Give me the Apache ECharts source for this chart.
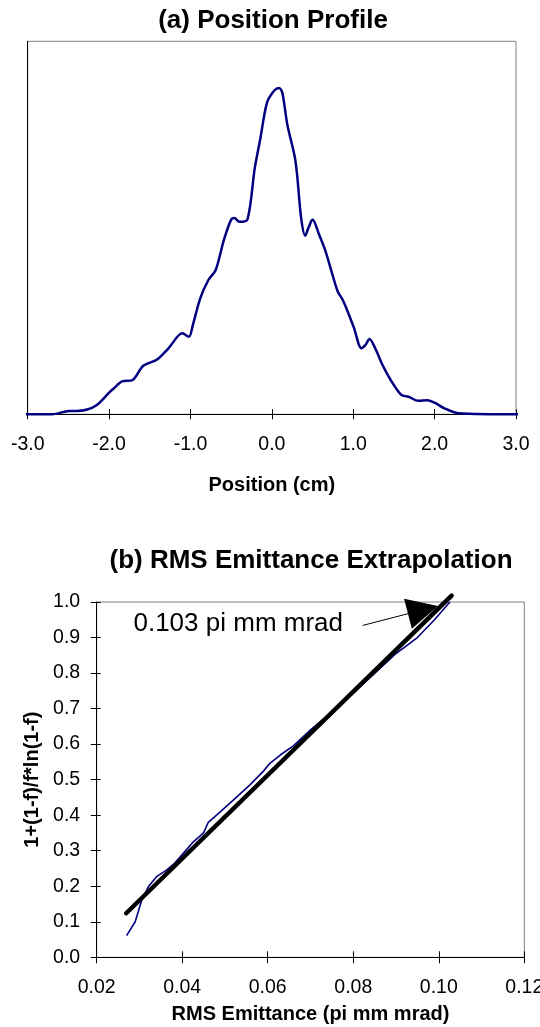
<!DOCTYPE html>
<html>
<head>
<meta charset="utf-8">
<script src="https://cdn.jsdelivr.net/npm/echarts@6/dist/echarts.min.js"></script>
<style>
  html, body { margin: 0; padding: 0; background: #fff; }
  #main { width: 540px; height: 1027px; }
</style>
</head>
<body>
<div id="main"></div>
<script>
// (a) position profile (arbitrary vertical units)
const profileX = [-3.1, -2.70, -2.49, -2.40, -2.28, -2.15, -2.00, -1.94, -1.84, -1.71,
  -1.58, -1.41, -1.27, -1.10, -1.02, -0.97, -0.88, -0.78, -0.69, -0.59,
  -0.50, -0.46, -0.40, -0.30, -0.21, -0.14, -0.06, 0.03, 0.09, 0.13,
  0.19, 0.28, 0.31, 0.36, 0.41, 0.45, 0.50, 0.58, 0.66, 0.74,
  0.81, 0.87, 0.94, 1.01, 1.10, 1.15, 1.20, 1.27, 1.36, 1.46,
  1.59, 1.68, 1.80, 1.91, 2.00, 2.12, 2.29, 3.1];
const profileY = [0, 0, 0.009, 0.009, 0.012, 0.025, 0.058, 0.070, 0.088, 0.092,
  0.130, 0.147, 0.177, 0.217, 0.208, 0.240, 0.311, 0.360, 0.387, 0.467,
  0.522, 0.526, 0.516, 0.522, 0.660, 0.741, 0.835, 0.868, 0.875, 0.861,
  0.777, 0.692, 0.643, 0.526, 0.479, 0.500, 0.522, 0.482, 0.437, 0.378,
  0.329, 0.307, 0.271, 0.231, 0.177, 0.186, 0.202, 0.177, 0.132, 0.092,
  0.052, 0.047, 0.036, 0.038, 0.031, 0.016, 0.003, 0];

// (b) rms emittance vs 1+(1-f)/f*ln(1-f)
const emitX = [0.0270, 0.0290, 0.0305, 0.0321, 0.0340, 0.0364, 0.0380, 0.0400, 0.0426, 0.0450,
  0.0461, 0.0481, 0.0520, 0.0559, 0.0590, 0.0605, 0.0630, 0.0660, 0.0700, 0.0740,
  0.0770, 0.0810, 0.0860, 0.0900, 0.0950, 0.0990, 0.1026];
const emitY = [0.061, 0.100, 0.160, 0.199, 0.227, 0.246, 0.262, 0.289, 0.325, 0.350,
  0.380, 0.401, 0.443, 0.486, 0.524, 0.546, 0.570, 0.595, 0.640, 0.680,
  0.710, 0.755, 0.810, 0.855, 0.900, 0.950, 1.000];

// straight-line extrapolation
const fitX = [0.0269, 0.1030];
const fitY = [0.124, 1.018];

// annotation: text anchor, arrow start, arrow head centre (data coords)
const annoText = '0.103 pi mm mrad';
const annoPos = [0.0286, 0.938];
const arrowFrom = [0.0822, 0.934];
const arrowTo = [0.0963, 0.978];

const FONT = '"Liberation Sans", Arial, sans-serif';
const zip = (a, b) => a.map((v, i) => [v, b[i]]);

const chart = echarts.init(document.getElementById('main'), null, { renderer: 'canvas' });

const tickStyle = { color: '#000', width: 1 };
const labelStyle = { color: '#000', fontSize: 19.5, fontFamily: FONT };
const nameStyle = { color: '#000', fontSize: 20, fontWeight: 'bold', fontFamily: FONT };

const option = {
  animation: false,
  backgroundColor: '#fff',
  grid: [
    { left: 27.7, right: 24, top: 41.3, bottom: 612.7, show: true, borderColor: '#808080', borderWidth: 1, outerBoundsMode: 'none', containLabel: false },
    { left: 96.7, right: 15.7, top: 602, bottom: 69.7, show: true, borderColor: '#808080', borderWidth: 1, outerBoundsMode: 'none', containLabel: false }
  ],
  xAxis: [
    {
      gridIndex: 0, type: 'value', min: -3, max: 3, interval: 1,
      axisLine: { show: true, onZero: false, lineStyle: tickStyle },
      axisTick: { show: true, length: 5, lineStyle: tickStyle },
      axisLabel: Object.assign({ margin: 20, formatter: v => v.toFixed(1) }, labelStyle),
      splitLine: { show: false },
      name: 'Position (cm)', nameLocation: 'middle', nameGap: 61, nameTextStyle: nameStyle
    },
    {
      gridIndex: 0, type: 'value', min: -3, max: 3, interval: 1, position: 'bottom',
      axisLine: { show: false, onZero: false },
      axisTick: { show: true, inside: true, length: 5, lineStyle: tickStyle },
      axisLabel: { show: false }, splitLine: { show: false }
    },
    {
      gridIndex: 1, type: 'value', min: 0.02, max: 0.12, interval: 0.02,
      axisLine: { show: true, onZero: false, lineStyle: tickStyle },
      axisTick: { show: true, length: 6, lineStyle: tickStyle },
      axisLabel: Object.assign({ margin: 20, formatter: v => v.toFixed(2) }, labelStyle),
      splitLine: { show: false },
      name: 'RMS Emittance (pi mm mrad)', nameLocation: 'middle', nameGap: 47, nameTextStyle: nameStyle
    },
    {
      gridIndex: 1, type: 'value', min: 0.02, max: 0.12, interval: 0.02, position: 'bottom',
      axisLine: { show: false, onZero: false },
      axisTick: { show: true, inside: true, length: 6, lineStyle: tickStyle },
      axisLabel: { show: false }, splitLine: { show: false }
    }
  ],
  yAxis: [
    {
      gridIndex: 0, type: 'value', min: 0, max: 1,
      axisLine: { show: true, onZero: false, lineStyle: tickStyle },
      axisTick: { show: false }, axisLabel: { show: false }, splitLine: { show: false }
    },
    {
      gridIndex: 1, type: 'value', min: 0, max: 1, interval: 0.1,
      axisLine: { show: true, onZero: false, lineStyle: tickStyle },
      axisTick: { show: true, length: 6, lineStyle: tickStyle },
      axisLabel: Object.assign({ margin: 16.5, formatter: v => v.toFixed(1) }, labelStyle),
      splitLine: { show: false },
      name: '1+(1-f)/f*ln(1-f)', nameLocation: 'middle', nameGap: 54, nameRotate: 90, nameTextStyle: nameStyle
    },
    {
      gridIndex: 1, type: 'value', min: 0, max: 1, interval: 0.1, position: 'left',
      axisLine: { show: false, onZero: false },
      axisTick: { show: true, inside: true, length: 4, lineStyle: tickStyle },
      axisLabel: { show: false }, splitLine: { show: false }
    }
  ],
  series: [
    {
      name: 'profile', type: 'line', xAxisIndex: 0, yAxisIndex: 0,
      data: zip(profileX, profileY), smooth: 0.3, showSymbol: false, clip: false,
      lineStyle: { color: '#000080', width: 2.5 }, silent: true
    },
    {
      name: 'emittance', type: 'line', xAxisIndex: 2, yAxisIndex: 1,
      data: zip(emitX, emitY), showSymbol: false,
      lineStyle: { color: '#000080', width: 1.6 }, silent: true
    },
    {
      name: 'fit', type: 'line', xAxisIndex: 2, yAxisIndex: 1,
      data: zip(fitX, fitY), showSymbol: false, clip: false,
      lineStyle: { color: '#000', width: 4.5, cap: 'round' }, silent: true,
      markLine: {
        silent: true, animation: false,
        symbol: ['none', 'triangle'], symbolSize: 31,
        label: { show: false },
        lineStyle: { color: '#000', width: 1, type: 'solid' },
        emphasis: { disabled: true },
        data: [[
          { coord: arrowFrom, symbol: 'none' },
          { coord: arrowTo, symbol: 'triangle', symbolSize: 31 }
        ]]
      }
    }
  ],
  graphic: [
    { type: 'text', x: 273, y: 21, style: { text: '(a) Position Profile', font: 'bold 26px ' + FONT, fill: '#000', align: 'center', verticalAlign: 'middle' } },
    { type: 'text', x: 311, y: 561, style: { text: '(b) RMS Emittance Extrapolation', font: 'bold 26px ' + FONT, fill: '#000', align: 'center', verticalAlign: 'middle' } }
  ]
};

chart.setOption(option);

// place the annotation text through the axes
const p = chart.convertToPixel({ xAxisIndex: 2, yAxisIndex: 1 }, annoPos);
option.graphic.push({
  type: 'text', x: p[0], y: p[1],
  style: { text: annoText, font: '26px ' + FONT, fill: '#000', align: 'left', verticalAlign: 'middle' }
});
chart.setOption({ graphic: option.graphic });
</script>
</body>
</html>
